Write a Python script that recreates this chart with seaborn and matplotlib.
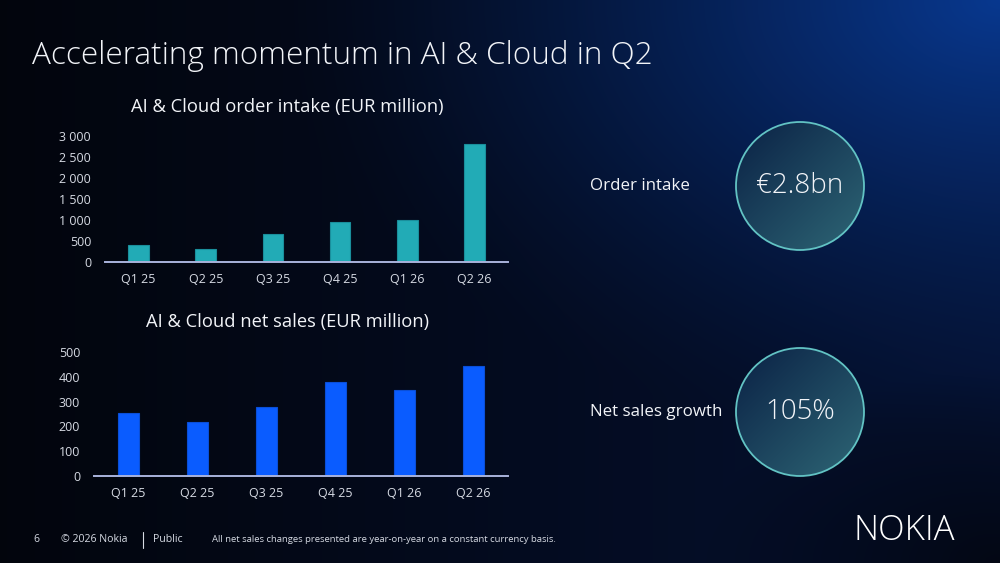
import numpy as np
import pandas as pd
import seaborn as sns
import matplotlib.pyplot as plt
from matplotlib.patches import Circle
from matplotlib.ticker import FuncFormatter

sns.set_theme(style="white")
plt.rcParams['font.family'] = ['Open Sans', 'DejaVu Sans']

quarters = ["Q1 25", "Q2 25", "Q3 25", "Q4 25", "Q1 26", "Q2 26"]
order_intake = [390, 300, 660, 960, 1000, 2800]
net_sales = [253, 218, 277, 377, 345, 444]

order_ticks = [0, 500, 1000, 1500, 2000, 2500, 3000]
sales_ticks = [0, 100, 200, 300, 400, 500]

kpi_labels = ["Order intake", "Net sales growth"]
kpi_values = ["€2.8bn", "105%"]

TEXT = "#f2f4f8"
TICK = "#d6dae3"
TEAL = "#22abb6"
BLUE = "#0a5cff"

W, H = 1000, 563
fig = plt.figure(figsize=(10, 5.63), dpi=100)

# background gradient
bg = fig.add_axes([0, 0, 1, 1])
bg.set_axis_off()
yy, xx = np.mgrid[0:H, 0:W]
xn = xx / W
yn = yy / H
base = np.array([0.010, 0.020, 0.05])
navy = np.array([0.02, 0.07, 0.20])
glow = np.array([0.03, 0.22, 0.56])
t = np.clip(xn * 0.95, 0, 1)[..., None]
img = base * (1 - t) + navy * t
d = np.sqrt(((xn - 1.0) * 1.1) ** 2 + (yn * 1.0) ** 2)
g = np.clip(1 - d / 0.8, 0, 1)[..., None] ** 1.5
img = img * (1 - g) + glow * g
dark = np.clip(1 - np.sqrt(((xn - 1.0) * 1.5) ** 2 + ((yn - 1.0) * 1.3) ** 2) / 0.45, 0, 1)[..., None]
img = img * (1 - dark * 0.8) + base * dark * 0.8
bg.imshow(img, extent=[0, W, H, 0], aspect="auto")
bg.set_xlim(0, W)
bg.set_ylim(H, 0)


def style_axis(ax, ticks, ymax):
    ax.set_facecolor("none")
    ax.set_ylim(0, ymax)
    ax.set_xlim(-0.5, 5.5)
    ax.set_yticks(ticks)
    ax.yaxis.set_major_formatter(FuncFormatter(lambda v, p: f"{int(v):,}".replace(",", " ")))
    ax.tick_params(axis="both", length=0, colors=TICK, labelsize=9)
    ax.tick_params(axis="x", pad=8)
    ax.tick_params(axis="y", pad=10)
    for s in ["top", "right", "left"]:
        ax.spines[s].set_visible(False)
    ax.spines["bottom"].set_color("#a9b3dc")
    ax.spines["bottom"].set_linewidth(1.4)
    ax.set_xlabel("")
    ax.set_ylabel("")


df_order = pd.DataFrame({"quarter": quarters, "value": order_intake})
df_sales = pd.DataFrame({"quarter": quarters, "value": net_sales})

ax1 = fig.add_axes([0.105, 0.535, 0.403, 0.2233])
sns.barplot(data=df_order, x="quarter", y="value", color=TEAL, width=0.31,
            saturation=1, edgecolor="#1a8f9c", linewidth=0.8, ax=ax1)
style_axis(ax1, order_ticks, 3000)

ax2 = fig.add_axes([0.094, 0.154, 0.414, 0.2213])
sns.barplot(data=df_sales, x="quarter", y="value", color=BLUE, width=0.31,
            saturation=1, edgecolor="#0a4fd8", linewidth=0.8, ax=ax2)
style_axis(ax2, sales_ticks, 500)

# overlay in pixel coordinates
ov = fig.add_axes([0, 0, 1, 1])
ov.set_axis_off()
ov.set_xlim(0, W)
ov.set_ylim(H, 0)
ov.patch.set_alpha(0)

ov.text(32, 56, "Accelerating momentum in AI & Cloud in Q2", color=TEXT,
        fontsize=22.7, fontweight="light", va="center", ha="left")
ov.text(287, 107, "AI & Cloud order intake (EUR million)", color=TEXT,
        fontsize=13.2, va="center", ha="center")
ov.text(287, 322, "AI & Cloud net sales (EUR million)", color=TEXT,
        fontsize=13.2, va="center", ha="center")

# KPI circles
centers = [(800, 186), (800, 412)]
cy, cx = np.mgrid[0:128, 0:128]
grad = ((cx + cy) / 254.0)[..., None]
c0 = np.array([0.04, 0.13, 0.27])
c1 = np.array([0.18, 0.40, 0.46])
circle_img = c0 * (1 - grad) + c1 * grad
for (x, y), lab, val in zip(centers, kpi_labels, kpi_values):
    r = 64
    im = ov.imshow(circle_img, extent=[x - r, x + r, y + r, y - r], zorder=2)
    clip = Circle((x, y), r, transform=ov.transData)
    im.set_clip_path(clip)
    ov.add_patch(Circle((x, y), r, fill=False, ec="#62c3c4", lw=1.3, zorder=3))
    ov.text(x, y, val, color=TEXT, fontsize=20, fontweight="light",
            ha="center", va="center", zorder=4)
    ov.text(590, y, lab, color=TEXT, fontsize=12.2, ha="left", va="center")
ov.set_xlim(0, W)
ov.set_ylim(H, 0)

# footer
ov.text(33, 540, "6", color=TICK, fontsize=7.5, va="center", ha="left")
ov.text(61, 540, "© 2026 Nokia", color=TICK, fontsize=7.6, va="center", ha="left")
ov.plot([143, 143], [532, 548], color=TICK, lw=0.8)
ov.text(153, 540, "Public", color=TICK, fontsize=7.6, va="center", ha="left")
ov.text(212, 540, "All net sales changes presented are year-on-year on a constant currency basis.",
        color=TICK, fontsize=6.8, va="center", ha="left")
ov.text(904, 531, "NOKIA", color="#ffffff", fontsize=25, fontweight="light",
        ha="center", va="center")

fig.savefig("out.png", dpi=100)
